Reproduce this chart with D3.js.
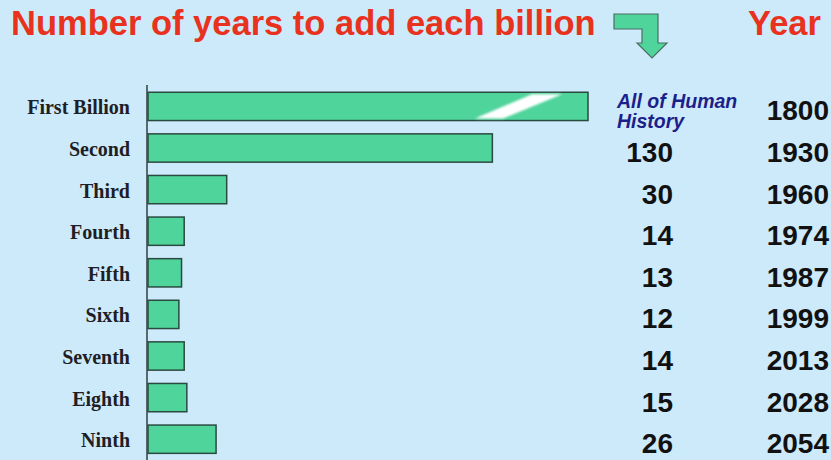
<!DOCTYPE html>
<html>
<head>
<meta charset="utf-8">
<script src="https://cdn.jsdelivr.net/npm/d3@7"></script>
<style>
  html, body { margin: 0; padding: 0; background: #cdeafb; }
  svg { display: block; }
</style>
</head>
<body>
<svg id="chart" width="831" height="460"></svg>
<script>
// Each successive billion of world population
const billions = ["First Billion", "Second", "Third", "Fourth", "Fifth", "Sixth", "Seventh", "Eighth", "Ninth"];
// Years taken to add that billion (the first took all of human history)
const yearsToAdd = [null, 130, 30, 14, 13, 12, 14, 15, 26];
// Year the milestone was (or is projected to be) reached
const yearReached = [1800, 1930, 1960, 1974, 1987, 1999, 2013, 2028, 2054];
const firstBillionNote = ["All of Human", "History"];
// Length drawn for the open-ended first bar, cut by a break mark
const brokenBarYears = 166;

const svg = d3.select("#chart");
const W = 831, H = 460;

svg.append("rect").attr("width", W).attr("height", H).attr("fill", "#cdeafb");

const green = "#4fd49c";
const edge = "#2a4a40";

// Heading
svg.append("text")
  .attr("x", 11).attr("y", 35)
  .attr("font-family", "Liberation Sans, Arial, sans-serif")
  .attr("font-weight", "bold")
  .attr("font-size", 34.5)
  .attr("fill", "#e8321e")
  .text("Number of years to add each billion");

svg.append("text")
  .attr("x", 821).attr("y", 35)
  .attr("text-anchor", "end")
  .attr("font-family", "Liberation Sans, Arial, sans-serif")
  .attr("font-weight", "bold")
  .attr("font-size", 34.5)
  .attr("fill", "#e8321e")
  .text("Year");

// Bent arrow pointing down into the value columns
const arrowPts = [[614,14],[658,14],[658,43],[667,43],[652,58],[637,43],[642,43],[642,29],[614,29]];
svg.append("path")
  .attr("d", d3.line()(arrowPts) + "Z")
  .attr("fill", green)
  .attr("stroke", "#4b6d64")
  .attr("stroke-width", 1.2)
  .attr("stroke-linejoin", "miter");

// Scales
const y = d3.scaleBand()
  .domain(billions)
  .range([85.6, 460])
  .paddingInner(0.32)
  .paddingOuter(0.16);

const x = d3.scaleLinear()
  .domain([0, brokenBarYears])
  .range([147, 588]);

const rows = billions.map((name, i) => ({
  name,
  years: yearsToAdd[i],
  reached: yearReached[i],
  drawn: yearsToAdd[i] == null ? brokenBarYears : yearsToAdd[i]
}));

// Bars
svg.append("g").selectAll("rect")
  .data(rows)
  .join("rect")
  .attr("x", x(0) + 1)
  .attr("y", d => y(d.name))
  .attr("width", d => x(d.drawn) - x(0) - 1)
  .attr("height", y.bandwidth())
  .attr("fill", green)
  .attr("stroke", edge)
  .attr("stroke-width", 1.5);

// Break mark across the open-ended bar
const defs = svg.append("defs");
defs.append("filter").attr("id", "soft")
  .append("feGaussianBlur").attr("stdDeviation", 0.8);

rows.filter(d => d.years == null).forEach(d => {
  const xe = x(d.drawn);
  const top = y(d.name) + 2, bot = y(d.name) + y.bandwidth() - 2;
  svg.append("path")
    .attr("d", d3.line()([[xe - 113, bot], [xe - 85, bot], [xe - 26, top], [xe - 56, top]]) + "Z")
    .attr("fill", "#ffffff")
    .attr("filter", "url(#soft)");
});

// Vertical axis line
svg.append("line")
  .attr("x1", x(0)).attr("x2", x(0))
  .attr("y1", 85).attr("y2", 460)
  .attr("stroke", "#3a4a4a")
  .attr("stroke-width", 1.6);

// Category labels
svg.append("g").selectAll("text")
  .data(rows)
  .join("text")
  .attr("x", 130)
  .attr("y", d => y(d.name) + y.bandwidth() / 2 + 1)
  .attr("dy", "0.35em")
  .attr("text-anchor", "end")
  .attr("font-family", "Liberation Serif, 'Times New Roman', serif")
  .attr("font-weight", "bold")
  .attr("font-size", 20)
  .attr("fill", "#1e1e24")
  .text(d => d.name);

// Years-to-add column
const numFont = "Liberation Sans, Arial, sans-serif";
svg.append("g").selectAll("text")
  .data(rows.filter(d => d.years != null))
  .join("text")
  .attr("x", 673)
  .attr("y", d => y(d.name) + y.bandwidth() / 2 + 4)
  .attr("dy", "0.36em")
  .attr("text-anchor", "end")
  .attr("font-family", numFont)
  .attr("font-weight", "bold")
  .attr("font-size", 28)
  .attr("fill", "#111")
  .text(d => d.years);

// Note for the first billion
const noteRow = rows.find(d => d.years == null);
svg.append("text")
  .attr("x", 617)
  .attr("y", y(noteRow.name) + 2)
  .attr("font-family", numFont)
  .attr("font-weight", "bold")
  .attr("font-style", "italic")
  .attr("font-size", 19.5)
  .attr("fill", "#1c1f8a")
  .selectAll("tspan")
  .data(firstBillionNote)
  .join("tspan")
  .attr("x", 617)
  .attr("dy", (d, i) => i === 0 ? 14 : 20)
  .text(d => d);

// Year column
svg.append("g").selectAll("text")
  .data(rows)
  .join("text")
  .attr("x", 829)
  .attr("y", d => y(d.name) + y.bandwidth() / 2 + 4)
  .attr("dy", "0.36em")
  .attr("text-anchor", "end")
  .attr("font-family", numFont)
  .attr("font-weight", "bold")
  .attr("font-size", 28)
  .attr("fill", "#111")
  .text(d => d.reached);
</script>
</body>
</html>
